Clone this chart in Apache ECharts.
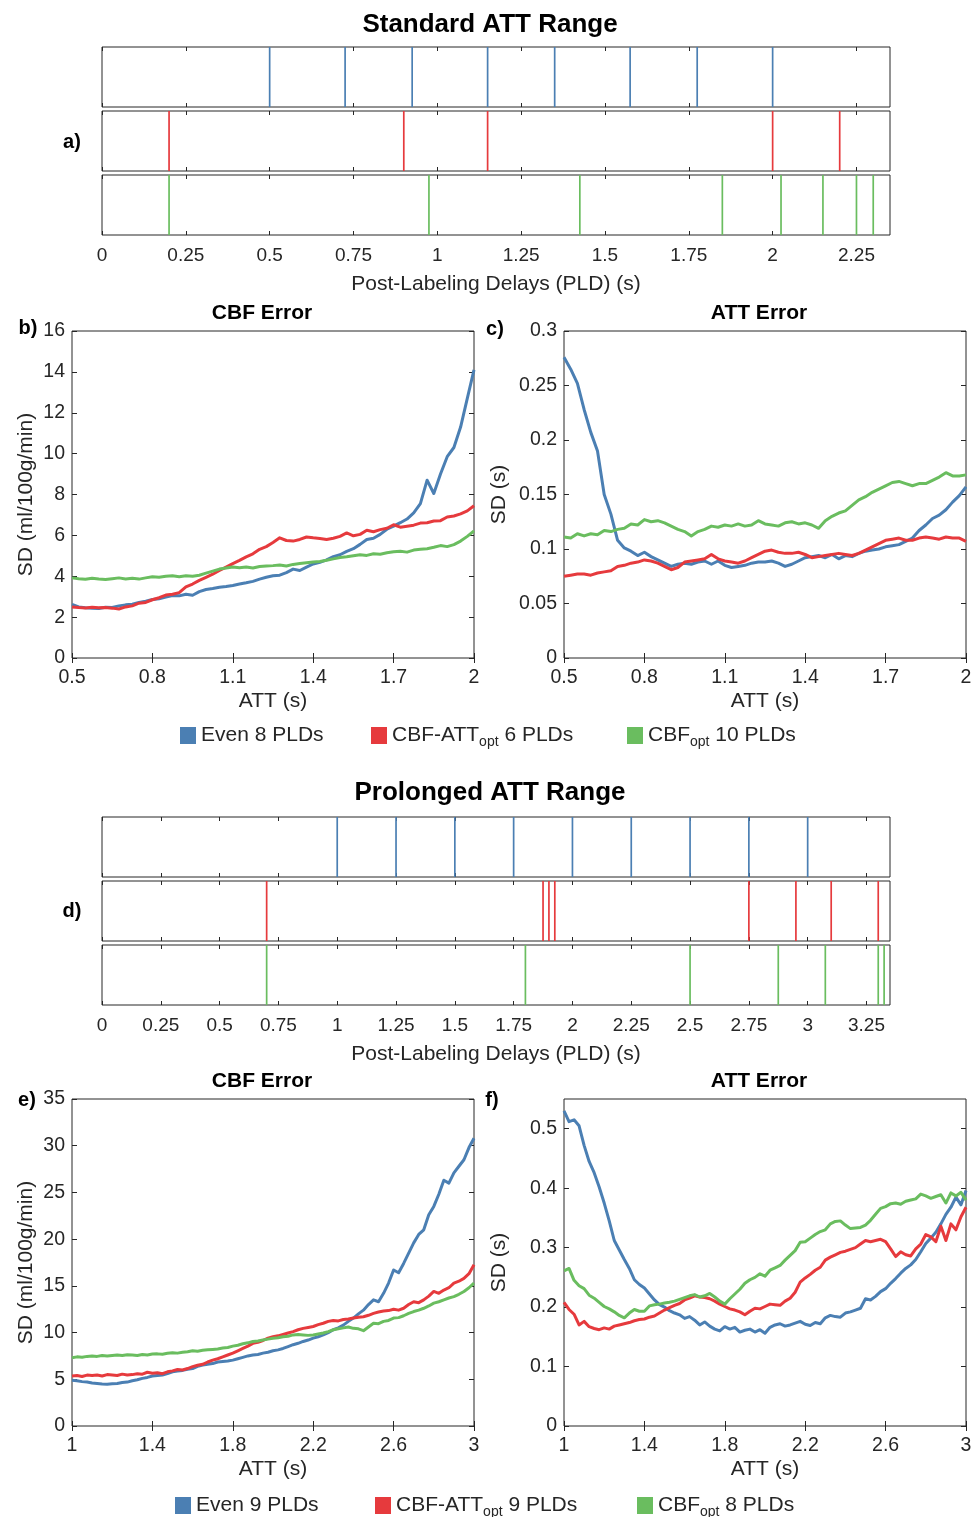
<!DOCTYPE html>
<html>
<head>
<meta charset="utf-8">
<script src="https://cdn.jsdelivr.net/npm/echarts@6/dist/echarts.min.js"></script>
<style>
  html, body { margin: 0; padding: 0; background: #fff; }
  #chart { width: 973px; height: 1517px; }
</style>
</head>
<body>
<div id="chart"></div>
<script>
// ---- PLD schedules (s) ----
const STD_EVEN_PLD   = [0.5, 0.725, 0.925, 1.15, 1.35, 1.575, 1.775, 2.0];
const STD_CBFATT_PLD = [0.2, 0.9, 1.15, 2.0, 2.2];
const STD_CBF_PLD    = [0.2, 0.975, 1.425, 1.85, 2.025, 2.15, 2.25, 2.3];
const PRO_EVEN_PLD   = [1, 1.25, 1.5, 1.75, 2, 2.25, 2.5, 2.75, 3];
const PRO_CBFATT_PLD = [0.7, 1.875, 1.9, 1.925, 2.75, 2.95, 3.1, 3.3];
const PRO_CBF_PLD    = [0.7, 1.8, 2.5, 2.875, 3.075, 3.3, 3.325];

// ---- tick labels ----
const STD_PLD_TICKS = [0, 0.25, 0.5, 0.75, 1, 1.25, 1.5, 1.75, 2, 2.25];
const PRO_PLD_TICKS = [0, 0.25, 0.5, 0.75, 1, 1.25, 1.5, 1.75, 2, 2.25, 2.5, 2.75, 3, 3.25];
const STD_ATT_TICKS = [0.5, 0.8, 1.1, 1.4, 1.7, 2];
const PRO_ATT_TICKS = [1, 1.4, 1.8, 2.2, 2.6, 3];
const STD_CBF_SD_TICKS = [0, 2, 4, 6, 8, 10, 12, 14, 16];
const STD_ATT_SD_TICKS = [0, 0.05, 0.1, 0.15, 0.2, 0.25, 0.3];
const PRO_CBF_SD_TICKS = [0, 5, 10, 15, 20, 25, 30, 35];
const PRO_ATT_SD_TICKS = [0, 0.1, 0.2, 0.3, 0.4, 0.5];

// ---- legend names ----
const STD_NAMES = ['Even 8 PLDs', 'CBF-ATTopt 6 PLDs', 'CBFopt 10 PLDs'];
const PRO_NAMES = ['Even 9 PLDs', 'CBF-ATTopt 9 PLDs', 'CBFopt 8 PLDs'];

// ---- simulated SD vs ATT; ATT sampled every ATT_STEP s from the first ATT ----
const STD_ATT_FIRST = 0.5;
const PRO_ATT_FIRST = 1.0;
const ATT_STEP = 0.025;

// standard range, CBF SD (ml/100g/min)
const STD_CBF_EVEN = [
  2.62,2.50,2.46,2.44,2.42,2.48,2.47,2.55,2.60,2.63,
  2.72,2.78,2.86,2.90,2.98,3.06,3.04,3.12,3.07,3.25,
  3.35,3.40,3.46,3.50,3.55,3.62,3.68,3.75,3.86,3.95,
  4.02,4.05,4.18,4.35,4.28,4.45,4.60,4.68,4.80,4.96,
  5.05,5.22,5.35,5.56,5.80,5.86,6.05,6.30,6.45,6.62,
  6.80,7.10,7.55,8.70,8.05,9.00,9.85,10.30,11.30,12.70,
  14.10];
const STD_CBF_CBFATT = [
  2.50,2.47,2.45,2.48,2.46,2.47,2.44,2.40,2.50,2.55,
  2.68,2.72,2.85,2.95,3.08,3.12,3.20,3.48,3.62,3.80,
  3.95,4.10,4.28,4.45,4.62,4.78,4.95,5.10,5.32,5.45,
  5.65,5.88,5.75,5.72,5.80,5.92,5.88,5.85,5.80,5.86,
  5.95,6.12,5.98,6.05,6.25,6.18,6.28,6.35,6.52,6.40,
  6.45,6.50,6.60,6.62,6.70,6.72,6.90,6.95,7.05,7.20,
  7.45];
const STD_CBF_CBF = [
  3.92,3.88,3.85,3.90,3.86,3.84,3.88,3.92,3.87,3.90,
  3.86,3.92,3.98,3.95,4.00,4.02,3.98,4.02,4.00,4.05,
  4.15,4.25,4.35,4.40,4.45,4.42,4.45,4.40,4.48,4.50,
  4.52,4.55,4.50,4.58,4.62,4.66,4.70,4.72,4.78,4.85,
  4.92,4.95,5.00,5.05,5.02,5.10,5.08,5.15,5.20,5.22,
  5.18,5.28,5.32,5.35,5.42,5.50,5.45,5.55,5.72,5.95,
  6.22];

// standard range, ATT SD (s)
const STD_ATT_EVEN = [
  .276,.265,.252,.228,.207,.190,.150,.132,.108,.101,
  .098,.094,.097,.093,.090,.087,.084,.086,.087,.086,
  .088,.089,.086,.089,.085,.083,.084,.085,.087,.088,
  .088,.089,.087,.084,.086,.089,.092,.093,.094,.092,
  .095,.091,.094,.093,.096,.098,.099,.100,.102,.103,
  .104,.107,.110,.117,.122,.128,.131,.136,.143,.149,
  .157];
const STD_ATT_CBFATT = [
  .075,.076,.077,.077,.076,.078,.079,.080,.084,.085,
  .087,.088,.090,.089,.087,.084,.081,.083,.088,.089,
  .090,.091,.095,.091,.089,.088,.087,.089,.092,.095,
  .098,.099,.097,.096,.096,.097,.095,.092,.093,.094,
  .095,.096,.095,.094,.096,.099,.102,.105,.108,.109,
  .110,.108,.108,.110,.111,.110,.109,.111,.110,.110,
  .107];
const STD_ATT_CBF = [
  .111,.110,.114,.112,.114,.113,.117,.116,.118,.119,
  .123,.122,.127,.125,.126,.124,.121,.118,.116,.112,
  .116,.118,.121,.120,.122,.121,.123,.121,.122,.126,
  .123,.122,.121,.124,.125,.123,.124,.122,.119,.126,
  .130,.133,.135,.140,.145,.148,.152,.155,.158,.161,
  .162,.160,.158,.160,.160,.163,.166,.170,.167,.167,
  .168];

// prolonged range, CBF SD (ml/100g/min)
const PRO_CBF_EVEN = [
  4.90,4.85,4.75,4.70,4.60,4.55,4.50,4.48,4.52,4.55,
  4.65,4.70,4.85,4.95,5.10,5.20,5.35,5.40,5.45,5.60,
  5.80,5.88,5.95,6.08,6.15,6.38,6.52,6.62,6.68,6.85,
  6.90,6.95,7.05,7.20,7.35,7.50,7.60,7.65,7.80,7.90,
  8.05,8.15,8.30,8.50,8.70,8.85,9.05,9.20,9.40,9.55,
  9.75,10.00,10.30,10.50,10.80,11.20,11.55,12.00,12.40,13.00,
  13.50,13.30,14.20,15.30,16.70,16.40,17.40,18.50,19.60,20.50,
  21.00,22.60,23.50,24.80,26.30,26.00,27.10,27.80,28.50,29.80,
  30.80];
const PRO_CBF_CBFATT = [
  5.35,5.40,5.30,5.45,5.40,5.45,5.35,5.50,5.45,5.40,
  5.55,5.45,5.50,5.60,5.55,5.75,5.65,5.70,5.60,5.80,
  5.90,6.05,6.00,6.15,6.35,6.50,6.60,6.85,7.05,7.20,
  7.40,7.60,7.80,8.05,8.30,8.55,8.85,8.95,9.15,9.40,
  9.55,9.65,9.80,9.95,10.10,10.30,10.45,10.55,10.65,10.85,
  11.00,11.20,11.30,11.25,11.40,11.45,11.55,11.65,11.70,11.85,
  12.05,12.20,12.30,12.35,12.50,12.40,12.60,13.00,13.30,13.20,
  13.50,13.90,14.40,14.20,14.55,14.80,15.30,15.50,15.80,16.30,
  17.25];
const PRO_CBF_CBF = [
  7.30,7.40,7.35,7.45,7.50,7.45,7.55,7.50,7.55,7.60,
  7.55,7.62,7.60,7.55,7.65,7.60,7.70,7.72,7.68,7.78,
  7.85,7.80,7.90,7.95,8.05,8.00,8.10,8.15,8.20,8.25,
  8.35,8.40,8.55,8.65,8.80,8.90,9.05,9.10,9.20,9.30,
  9.40,9.45,9.55,9.60,9.75,9.80,9.75,9.70,9.75,9.85,
  9.95,10.10,10.30,10.40,10.50,10.60,10.45,10.40,10.20,10.60,
  11.00,10.95,11.20,11.30,11.55,11.60,11.80,12.05,12.25,12.40,
  12.60,12.85,13.15,13.30,13.50,13.70,13.85,14.10,14.40,14.80,
  15.30];

// prolonged range, ATT SD (s)
const PRO_ATT_EVEN = [
  .530,.512,.515,.505,.472,.445,.426,.402,.375,.345,
  .312,.296,.280,.265,.246,.238,.232,.222,.212,.204,
  .200,.194,.190,.187,.181,.184,.178,.170,.175,.168,
  .163,.160,.167,.163,.166,.158,.161,.163,.158,.162,
  .156,.166,.170,.172,.168,.170,.173,.176,.171,.169,
  .174,.172,.182,.186,.184,.183,.190,.192,.195,.198,
  .214,.212,.218,.226,.231,.240,.248,.257,.265,.271,
  .280,.293,.307,.316,.326,.340,.356,.368,.385,.372,
  .396];
const PRO_ATT_CBFATT = [
  .208,.196,.188,.170,.176,.167,.164,.162,.165,.163,
  .168,.170,.172,.174,.177,.179,.180,.183,.185,.190,
  .195,.199,.203,.206,.212,.215,.219,.217,.216,.214,
  .210,.205,.201,.197,.195,.192,.187,.193,.198,.197,
  .201,.205,.204,.203,.210,.215,.225,.242,.249,.255,
  .262,.267,.279,.284,.288,.292,.294,.297,.300,.306,
  .312,.310,.312,.314,.310,.298,.285,.293,.288,.286,
  .298,.306,.322,.318,.310,.336,.312,.340,.330,.352,
  .368];
const PRO_ATT_CBF = [
  .261,.265,.245,.236,.231,.220,.215,.208,.201,.197,
  .192,.186,.182,.190,.196,.193,.193,.202,.204,.205,
  .207,.208,.210,.213,.216,.219,.221,.217,.219,.223,
  .217,.210,.205,.214,.222,.230,.240,.246,.250,.256,
  .252,.262,.266,.270,.279,.287,.295,.309,.310,.316,
  .322,.327,.330,.340,.344,.345,.338,.332,.333,.334,
  .338,.346,.356,.366,.369,.374,.375,.373,.378,.380,
  .382,.390,.387,.383,.386,.389,.375,.392,.387,.393,
  .380];

// ---- styling ----
const INK = '#262626';
const FONT = '"Liberation Sans", Arial, Helvetica, sans-serif';
const BLUE = '#4b7fb3', RED = '#e63a3d', GREEN = '#6abd5f';

const grid = [], xAxis = [], yAxis = [], series = [];

const tickStyle = (values, len) => ({
  show: true, inside: true, length: len, customValues: values,
  lineStyle: { color: INK, width: 1 }
});
const labelStyle = (values, size, margin) => ({
  show: true, customValues: values, fontSize: size, color: INK,
  fontFamily: FONT, margin: margin
});
const nameStyle = { fontSize: 21, color: INK, fontFamily: FONT };

// one timing strip: vertical marks at each PLD
function addStrip(top, xMax, ticks, pld, color, withLabels) {
  const gi = grid.length;
  grid.push({ left: 102, top: top, width: 788, height: 60, show: true,
    borderColor: INK, borderWidth: 1, backgroundColor: 'rgba(0,0,0,0)',
    containLabel: false, outerBoundsMode: 'none' });
  const base = { type: 'value', gridIndex: gi, min: 0, max: xMax,
    splitLine: { show: false }, axisLine: { show: false } };
  xAxis.push(Object.assign({}, base, {
    position: 'bottom', axisTick: tickStyle(ticks, 4),
    axisLabel: withLabels ? labelStyle(ticks, 19, 11) : { show: false },
    name: withLabels ? 'Post-Labeling Delays (PLD) (s)' : '',
    nameLocation: 'middle', nameGap: 39, nameTextStyle: nameStyle
  }));
  const xi = xAxis.length - 1;
  xAxis.push(Object.assign({}, base, {
    position: 'top', axisTick: tickStyle(ticks, 4), axisLabel: { show: false }
  }));
  yAxis.push({ type: 'value', gridIndex: gi, min: 0, max: 1, show: false });
  const yi = yAxis.length - 1;
  series.push({
    type: 'custom', name: 'timing', xAxisIndex: xi, yAxisIndex: yi,
    data: pld.map(v => [v, 0]), encode: { x: 0, y: 1 }, silent: true, clip: true,
    renderItem: (params, api) => {
      const cs = params.coordSys;
      const p = api.coord([api.value(0), 0]);
      return { type: 'line',
        shape: { x1: p[0], y1: cs.y, x2: p[0], y2: cs.y + cs.height },
        style: { stroke: color, lineWidth: 1.7 } };
    }
  });
}

// one SD-vs-ATT panel with boxed axes
function addPlot(left, top, xMin, xMax, xTicks, yMax, yTicks, yName, yNameGap, first, curves) {
  const gi = grid.length;
  grid.push({ left: left, top: top, width: 402, height: 327, show: true,
    borderColor: INK, borderWidth: 1, backgroundColor: 'rgba(0,0,0,0)',
    containLabel: false, outerBoundsMode: 'none' });
  const xb = { type: 'value', gridIndex: gi, min: xMin, max: xMax,
    splitLine: { show: false }, axisLine: { show: false } };
  xAxis.push(Object.assign({}, xb, {
    position: 'bottom', axisTick: tickStyle(xTicks, 5),
    axisLabel: labelStyle(xTicks, 19.5, 10),
    name: 'ATT (s)', nameLocation: 'middle', nameGap: 33, nameTextStyle: nameStyle
  }));
  const xi = xAxis.length - 1;
  xAxis.push(Object.assign({}, xb, {
    position: 'top', axisTick: tickStyle(xTicks, 5), axisLabel: { show: false }
  }));
  const yb = { type: 'value', gridIndex: gi, min: 0, max: yMax,
    splitLine: { show: false }, axisLine: { show: false } };
  yAxis.push(Object.assign({}, yb, {
    position: 'left', axisTick: tickStyle(yTicks, 5),
    axisLabel: labelStyle(yTicks, 19.5, 7),
    name: yName, nameLocation: 'middle', nameGap: yNameGap, nameRotate: 90,
    nameTextStyle: nameStyle
  }));
  const yi = yAxis.length - 1;
  yAxis.push(Object.assign({}, yb, {
    position: 'right', axisTick: tickStyle(yTicks, 5), axisLabel: { show: false }
  }));
  curves.forEach(([name, ys, color]) => {
    series.push({
      type: 'line', name: name, xAxisIndex: xi, yAxisIndex: yi,
      data: ys.map((v, i) => [+(first + i * ATT_STEP).toFixed(4), v]),
      color: color, showSymbol: false, symbol: 'none', silent: true, clip: true,
      lineStyle: { width: 3, color: color, join: 'round' }
    });
  });
}

// standard ATT range
addStrip(47, 2.35, STD_PLD_TICKS, STD_EVEN_PLD, BLUE, false);
addStrip(111, 2.35, STD_PLD_TICKS, STD_CBFATT_PLD, RED, false);
addStrip(175, 2.35, STD_PLD_TICKS, STD_CBF_PLD, GREEN, true);
addPlot(72, 331, 0.5, 2, STD_ATT_TICKS, 16, STD_CBF_SD_TICKS,
  'SD (ml/100g/min)', 35, STD_ATT_FIRST,
  [[STD_NAMES[0], STD_CBF_EVEN, BLUE], [STD_NAMES[1], STD_CBF_CBFATT, RED], [STD_NAMES[2], STD_CBF_CBF, GREEN]]);
addPlot(564, 331, 0.5, 2, STD_ATT_TICKS, 0.3, STD_ATT_SD_TICKS,
  'SD (s)', 54, STD_ATT_FIRST,
  [[STD_NAMES[0], STD_ATT_EVEN, BLUE], [STD_NAMES[1], STD_ATT_CBFATT, RED], [STD_NAMES[2], STD_ATT_CBF, GREEN]]);

// prolonged ATT range
addStrip(817, 3.35, PRO_PLD_TICKS, PRO_EVEN_PLD, BLUE, false);
addStrip(881, 3.35, PRO_PLD_TICKS, PRO_CBFATT_PLD, RED, false);
addStrip(945, 3.35, PRO_PLD_TICKS, PRO_CBF_PLD, GREEN, true);
addPlot(72, 1099, 1, 3, PRO_ATT_TICKS, 35, PRO_CBF_SD_TICKS,
  'SD (ml/100g/min)', 35, PRO_ATT_FIRST,
  [[PRO_NAMES[0], PRO_CBF_EVEN, BLUE], [PRO_NAMES[1], PRO_CBF_CBFATT, RED], [PRO_NAMES[2], PRO_CBF_CBF, GREEN]]);
addPlot(564, 1099, 1, 3, PRO_ATT_TICKS, 0.55, PRO_ATT_SD_TICKS,
  'SD (s)', 54, PRO_ATT_FIRST,
  [[PRO_NAMES[0], PRO_ATT_EVEN, BLUE], [PRO_NAMES[1], PRO_ATT_CBFATT, RED], [PRO_NAMES[2], PRO_ATT_CBF, GREEN]]);

// legend entries, "opt" drawn as a subscript
function richName(name) {
  const m = name.match(/^(CBF-ATT|CBF)opt(.*)$/);
  return m ? '{n|' + m[1] + '}{s|opt}{n|' + m[2] + '}' : '{n|' + name + '}';
}
function legendItem(name, left, top) {
  return {
    data: [name], left: left, top: top, padding: 0, orient: 'horizontal',
    icon: 'rect', itemWidth: 16, itemHeight: 17, selectedMode: false,
    itemStyle: { borderWidth: 0 },
    formatter: richName,
    textStyle: {
      fontSize: 21, color: INK, fontFamily: FONT,
      rich: {
        n: { fontSize: 21, lineHeight: 28, color: INK, fontFamily: FONT },
        s: { fontSize: 14, lineHeight: 14, verticalAlign: 'bottom', color: INK, fontFamily: FONT }
      }
    }
  };
}
const legend = [
  legendItem(STD_NAMES[0], 180, 725),
  legendItem(STD_NAMES[1], 371, 725),
  legendItem(STD_NAMES[2], 627, 725),
  legendItem(PRO_NAMES[0], 175, 1495),
  legendItem(PRO_NAMES[1], 375, 1495),
  legendItem(PRO_NAMES[2], 637, 1495)
];

// headings and panel letters
const heading = (text, x, y, size) => ({
  type: 'text', x: x, y: y, silent: true,
  style: { text: text, fill: '#000', font: 'bold ' + size + 'px ' + FONT,
    align: 'center', verticalAlign: 'middle' }
});
const graphic = [
  heading('Standard ATT Range', 490, 25, 26),
  heading('a)', 72, 142, 20),
  heading('CBF Error', 262, 313, 21),
  heading('ATT Error', 759, 313, 21),
  heading('b)', 28, 328, 20),
  heading('c)', 495, 329, 20),
  heading('Prolonged ATT Range', 490, 793, 26),
  heading('d)', 72, 911, 20),
  heading('CBF Error', 262, 1081, 21),
  heading('ATT Error', 759, 1081, 21),
  heading('e)', 27, 1100, 20),
  heading('f)', 492, 1100, 20)
];

const chart = echarts.init(document.getElementById('chart'), null,
  { renderer: 'canvas', width: 973, height: 1517 });
chart.setOption({
  backgroundColor: '#ffffff',
  animation: false,
  textStyle: { fontFamily: FONT },
  tooltip: { show: false },
  grid: grid, xAxis: xAxis, yAxis: yAxis,
  legend: legend, series: series, graphic: graphic
});
</script>
</body>
</html>
